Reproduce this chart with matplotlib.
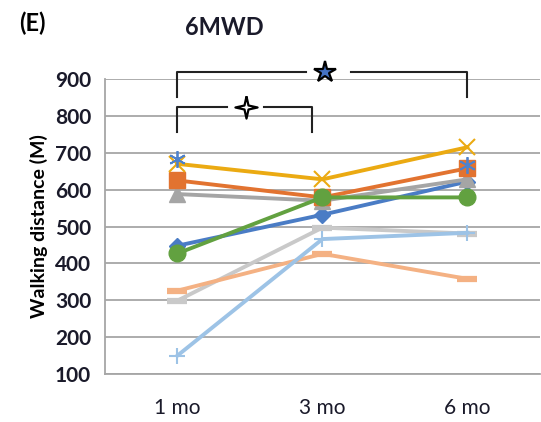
import numpy as np
import matplotlib.pyplot as plt
from matplotlib.path import Path

plt.rcParams['font.family'] = ['Lato', 'DejaVu Sans']

months = ['1 mo', '3 mo', '6 mo']
s_diamond = [448, 532, 622]
s_square = [625, 579, 658]
s_triangle = [588, 570, 628]
s_cross = [670, 628, 715]
s_asterisk = [683, np.nan, 668]
s_circle = [427, 579, 579]
s_plus = [150, 466, 483]
s_dash_orange = [326, 426, 358]
s_dash_gray = [299, 497, 481]

yticks = [100, 200, 300, 400, 500, 600, 700, 800, 900]

fig = plt.figure(figsize=(5.41, 4.22), dpi=100)
ax = fig.add_axes([0.194, 0.1137, 0.804, 0.699])
x = np.arange(len(months))

lw = 2.8
ax.plot(x, s_dash_gray, color='#C9C9C9', lw=lw, marker='_', ms=14, mew=4.5, zorder=3)
ax.plot(x, s_dash_orange, color='#F4B183', lw=lw, marker='_', ms=14, mew=4.5, zorder=3)
ax.plot(x, s_plus, color='#9DC3E6', lw=lw, marker='+', ms=12, mew=1.5, zorder=3)
ax.plot(x, s_diamond, color='#4A7CC5', lw=lw, marker='D', ms=8, zorder=4)
ax.plot(x, s_triangle, color='#A5A5A5', lw=lw, marker='^', ms=11, zorder=4)
ax.plot(x, s_square, color='#E27330', lw=lw, marker='s', ms=11, zorder=4)
ax.plot(x, s_circle, color='#62A140', lw=lw, marker='o', ms=12, zorder=5)
ax.plot(x, s_cross, color='#EBAA12', lw=lw, marker='x', ms=11, mew=1.5, zorder=5)
ax.plot(x, s_asterisk, color='#4F82CB', lw=lw, marker=(6, 2, 0), ms=12, mew=1.3, zorder=6)

ax.set_xlim(-0.5, 2.5)
ax.set_ylim(100, 900)
ax.set_yticks(yticks)
ax.set_xticks(x)
ax.set_xticklabels(months, fontsize=15, color='#1a1a2a')
ax.set_yticklabels([str(v) for v in yticks], fontsize=15, fontweight='bold', color='#1a1a2a')
ax.tick_params(length=0, pad=10)
ax.tick_params(axis='x', pad=17)
ax.yaxis.grid(True, color='#A6A6A6', lw=1.3)
ax.set_axisbelow(True)
for side in ['top', 'right']:
    ax.spines[side].set_visible(False)
for side in ['left', 'bottom']:
    ax.spines[side].set_color('#A6A6A6')
    ax.spines[side].set_linewidth(1.3)
ax.set_ylabel('Walking distance (M)', fontsize=14, fontweight='bold', labelpad=5)

# significance brackets
kw = dict(color='#222222', lw=1.5, clip_on=False, zorder=7)
ax.plot([0, 0, 0.89], [851, 920, 920], **kw)
ax.plot([1.2, 2.0, 2.0], [920, 920, 851], **kw)
ax.plot([0, 0, 0.34], [756, 824, 824], **kw)
ax.plot([0.6, 0.93, 0.93], [824, 824, 756], **kw)
ax.plot([1.02], [920], marker='*', ms=16, mfc='#4472C4', mec='black', mew=1.6,
        clip_on=False, zorder=8)
star4 = Path([(0, 1), (0.18, 0.18), (1, 0), (0.18, -0.18), (0, -1), (-0.18, -0.18),
              (-1, 0), (-0.18, 0.18), (0, 1)])
ax.plot([0.47], [824], marker=star4, ms=16, mfc='white', mec='black', mew=1.6,
        clip_on=False, zorder=8)

fig.text(0.035, 0.945, '(E)', fontsize=17, fontweight='bold', va='center')
fig.text(0.415, 0.935, '6MWD', fontsize=17, fontweight='bold', va='center', ha='center',
         color='#1a1a2a')

fig.savefig('out.png', dpi=100)
